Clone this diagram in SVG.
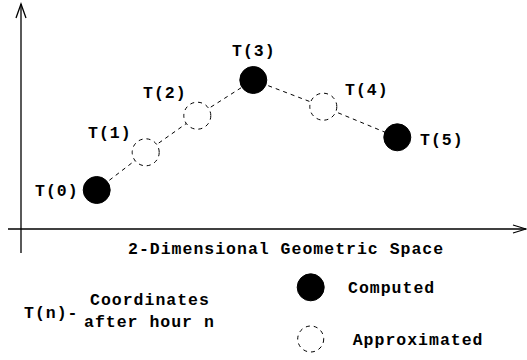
<svg xmlns="http://www.w3.org/2000/svg" width="527" height="360" viewBox="0 0 527 360">
<style>
text{font-family:"Liberation Mono","Courier New",monospace;font-weight:bold;font-size:16.5px;letter-spacing:1px;fill:#000}
.filled{fill:#000;stroke:#000;stroke-width:1}
.approx{fill:#fff;stroke:#000;stroke-width:1;stroke-dasharray:4,4}
.conn{stroke:#000;stroke-width:1;stroke-dasharray:4,4;fill:none}
.axis{stroke:#000;stroke-width:1.3;fill:none}
</style>
<rect width="527" height="360" fill="#fff"/>
<g id="axes">
<line class="axis" x1="21" y1="4" x2="21" y2="253"/>
<polyline class="axis" points="16,18 21,4 26,18"/>
<line class="axis" x1="8" y1="229" x2="526" y2="229"/>
<polyline class="axis" points="513,225 526,229 513,233"/>
<text x="128" y="254">2-Dimensional Geometric Space</text>
</g>
<g id="connectors">
<line class="conn" x1="96.7" y1="190" x2="145.7" y2="152.3"/>
<line class="conn" x1="145.7" y1="152.3" x2="197.3" y2="115.7"/>
<line class="conn" x1="197.3" y1="115.7" x2="253.3" y2="80"/>
<line class="conn" x1="253.3" y1="80" x2="323.3" y2="106.7"/>
<line class="conn" x1="323.3" y1="106.7" x2="397.3" y2="137.3"/>
</g>
<g id="T0"><circle class="filled" cx="96.7" cy="190" r="13.5"/><text x="35" y="196">T(0)</text></g>
<g id="T1"><circle class="approx" cx="145.7" cy="152.3" r="13.5"/><text x="88" y="138">T(1)</text></g>
<g id="T2"><circle class="approx" cx="197.3" cy="115.7" r="13.5"/><text x="143" y="98">T(2)</text></g>
<g id="T3"><circle class="filled" cx="253.3" cy="80" r="13.5"/><text x="232" y="56">T(3)</text></g>
<g id="T4"><circle class="approx" cx="323.3" cy="106.7" r="13.5"/><text x="345" y="95">T(4)</text></g>
<g id="T5"><circle class="filled" cx="397.3" cy="137.3" r="13.5"/><text x="420" y="145">T(5)</text></g>
<g id="legend-text">
<text x="24" y="318">T(n)-</text>
<text x="90" y="305">Coordinates</text>
<text x="84" y="327">after hour n</text>
</g>
<g id="legend-computed"><circle class="filled" cx="310.7" cy="287.3" r="13.5"/><text x="348" y="293">Computed</text></g>
<g id="legend-approx"><circle class="approx" cx="310.7" cy="339" r="13"/><text x="352.7" y="345">Approximated</text></g>
</svg>
